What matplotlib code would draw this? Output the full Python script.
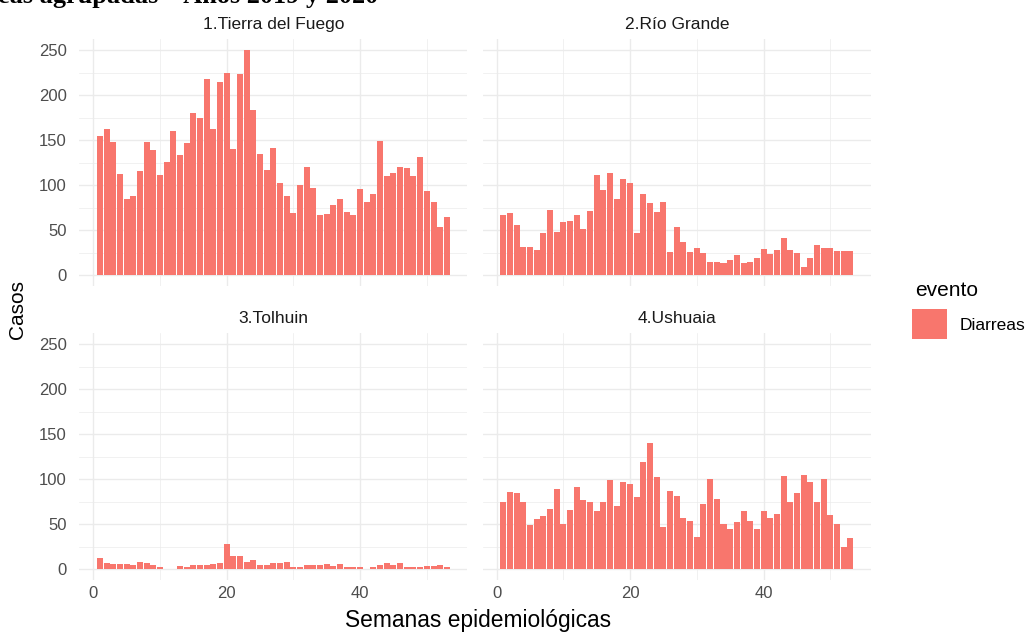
import numpy as np
import matplotlib
matplotlib.use("Agg")
import matplotlib.pyplot as plt
from matplotlib.patches import Rectangle

plt.rcParams['font.family'] = ['Liberation Sans', 'DejaVu Sans']

weeks = list(range(1, 54))

tierra_del_fuego = [154, 162, 148, 112, 85, 88, 116, 148, 139, 111, 126, 160, 133, 147,
                    180, 175, 218, 162, 214, 224, 140, 223, 250, 183, 134, 117, 141, 102,
                    88, 69, 100, 120, 97, 67, 68, 78, 84, 70, 67, 96, 81, 90, 149, 110,
                    113, 120, 119, 110, 131, 93, 81, 53, 64]
rio_grande = [67, 69, 56, 31, 31, 28, 47, 72, 48, 59, 60, 67, 51, 71, 111, 94, 113, 85,
              107, 102, 47, 90, 80, 70, 81, 26, 53, 37, 26, 30, 24, 14, 14, 13, 17, 22,
              13, 15, 19, 29, 23, 28, 41, 28, 24, 9, 19, 33, 30, 30, 27, 27, 27]
tolhuin = [12, 7, 6, 6, 6, 4, 8, 7, 4, 2, 0, 0, 3, 2, 4, 5, 5, 6, 7, 28, 14, 14, 8, 10,
           5, 4, 7, 7, 8, 2, 2, 4, 4, 4, 6, 3, 6, 2, 2, 2, 0, 2, 4, 7, 4, 7, 2, 2, 2, 3,
           3, 4, 2]
ushuaia = [75, 86, 85, 74, 49, 56, 59, 67, 89, 50, 66, 91, 77, 75, 64, 75, 99, 70, 97,
           94, 80, 119, 140, 102, 47, 87, 81, 57, 53, 36, 72, 100, 78, 50, 45, 52, 64,
           53, 45, 64, 57, 61, 103, 75, 85, 104, 97, 74, 100, 60, 50, 25, 35]

panel_titles = ["1.Tierra del Fuego", "2.Río Grande", "3.Tolhuin", "4.Ushuaia"]
panel_values = [tierra_del_fuego, rio_grande, tolhuin, ushuaia]
x_ticks = [0, 20, 40]
y_ticks = [0, 50, 100, 150, 200, 250]
legend_title = "evento"
legend_label = "Diarreas"
x_title = "Semanas epidemiológicas"
y_title = "Casos"
header = "eas agrupadas – Años 2019 y 2020"

W, H = 1031, 632
fig = plt.figure(figsize=(W / 100, H / 100), dpi=100)
fig.patch.set_facecolor("white")

bar_color = "#F8766D"
grid_color = "#EBEBEB"
bar_w = 0.9

# shared limits with ggplot-like 5% expansion
x_lo, x_hi = min(weeks) - bar_w / 2, max(weeks) + bar_w / 2
x_pad = 0.05 * (x_hi - x_lo)
y_max = max(max(v) for v in panel_values)
y_pad = 0.05 * y_max


def px_box(left, top, right, bottom):
    return [left / W, 1 - bottom / H, (right - left) / W, (bottom - top) / H]


boxes = [
    px_box(79.3, 38.8, 467.5, 286.3),
    px_box(482.7, 38.8, 870.9, 286.3),
    px_box(79.3, 332.8, 467.5, 580.3),
    px_box(482.7, 332.8, 870.9, 580.3),
]

for i, (title, vals, box) in enumerate(zip(panel_titles, panel_values, boxes)):
    ax = fig.add_axes(box)
    ax.set_facecolor("white")
    ax.bar(weeks, vals, width=bar_w, color=bar_color, linewidth=0, zorder=3)
    ax.set_xlim(x_lo - x_pad, x_hi + x_pad)
    ax.set_ylim(-y_pad, y_max + y_pad)
    ax.set_xticks(x_ticks)
    ax.set_yticks(y_ticks)
    ax.set_xticks([10, 30, 50], minor=True)
    ax.set_yticks([25, 75, 125, 175, 225], minor=True)
    ax.grid(which="major", color=grid_color, linewidth=1.0, zorder=0)
    ax.grid(which="minor", color=grid_color, linewidth=0.5, zorder=0)
    for s in ax.spines.values():
        s.set_visible(False)
    ax.tick_params(which="both", length=0)
    ax.tick_params(axis="x", labelsize=12, labelcolor="#4D4D4D", pad=4)
    ax.tick_params(axis="y", labelsize=12, labelcolor="#4D4D4D", pad=9)
    if i % 2 == 1:
        ax.tick_params(axis="y", labelleft=False)
    if i < 2:
        ax.tick_params(axis="x", labelbottom=False)
    ax.set_title(title, fontsize=12.5, color="#1A1A1A", pad=7)

fig.text(478 / W, 1 - 621 / H, x_title, ha="center", va="center", fontsize=16.4, color="black")
fig.text(18 / W, 1 - 310 / H, y_title, ha="center", va="center", rotation=90,
         fontsize=15, color="black")

# legend
fig.text(915 / W, 1 - 290 / H, legend_title, ha="left", va="center", fontsize=15, color="black")
fig.patches.append(Rectangle((912 / W, 1 - 339 / H), 35 / W, 30 / H,
                             transform=fig.transFigure, facecolor=bar_color,
                             edgecolor="none", figure=fig))
fig.text(960 / W, 1 - 325 / H, legend_label, ha="left", va="center", fontsize=12.5, color="black")

# page header, partly above the top edge
fig.text(-2 / W, 1 - 3 / H, header, ha="left", va="baseline", fontsize=18.9,
         fontweight="bold", family="Liberation Serif", color="black")

fig.savefig("out.png", dpi=100, facecolor="white")
